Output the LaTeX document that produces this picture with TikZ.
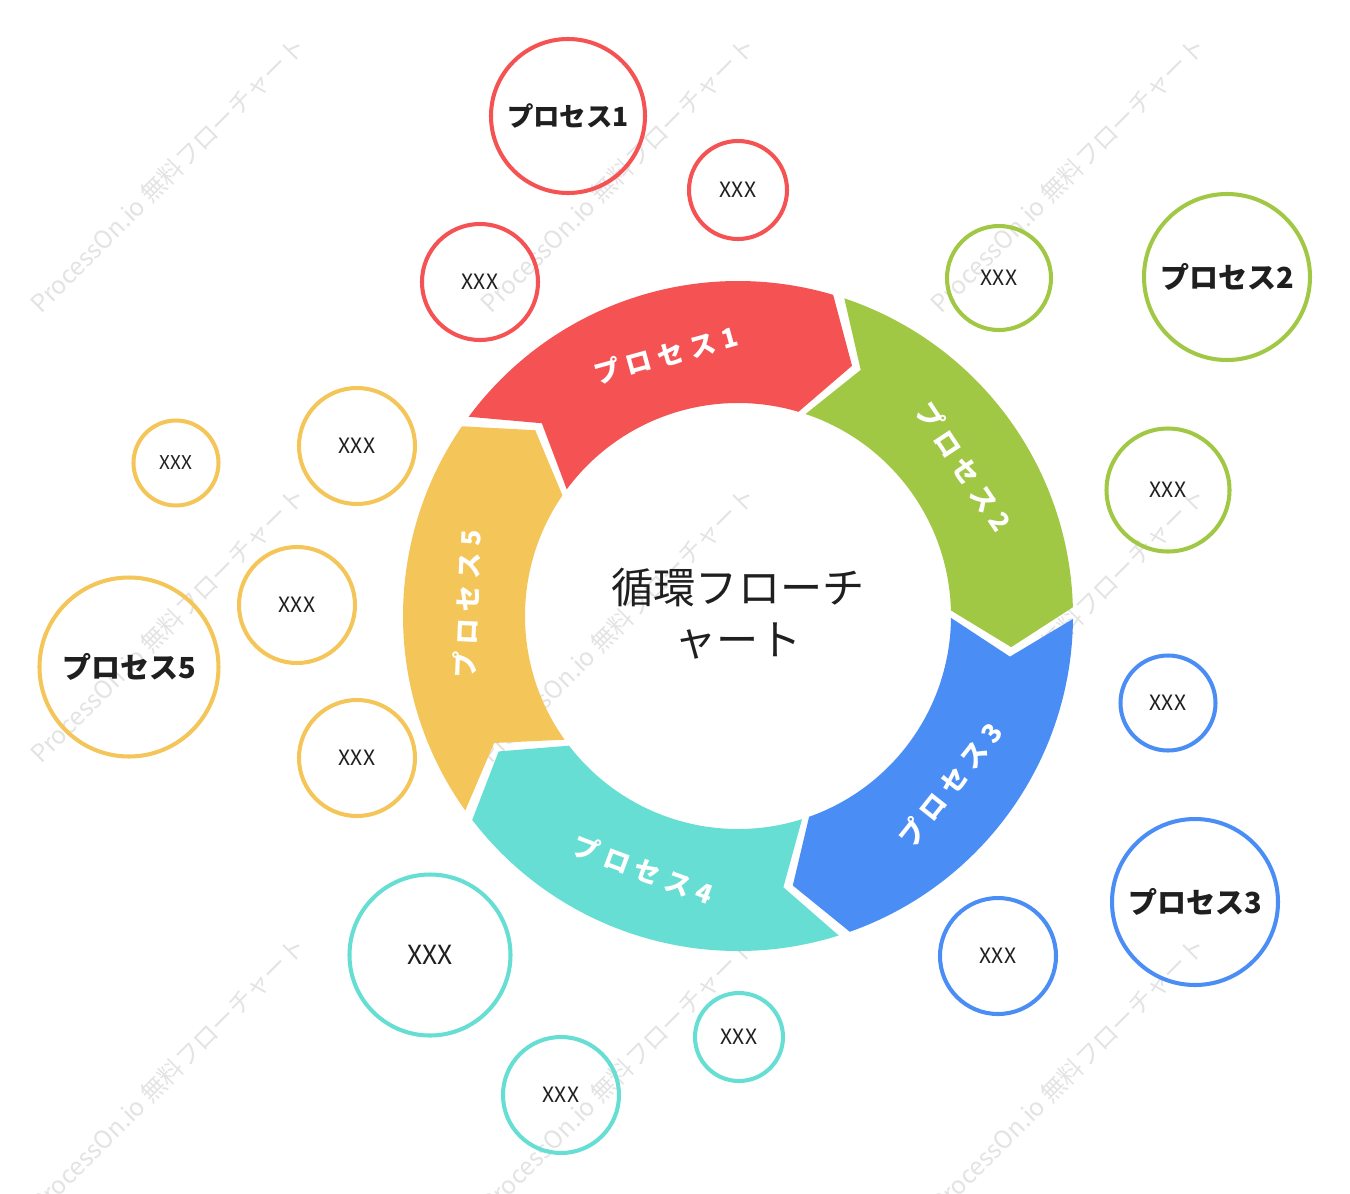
\documentclass[tikz,border=0pt]{standalone}
\usepackage{fontspec}
\setmainfont{Noto Sans CJK JP}
\usepackage{tikz}
\usepackage{xcolor}
\definecolor{pred}{HTML}{F55353}
\definecolor{pgreen}{HTML}{A1C844}
\definecolor{pblue}{HTML}{4A8EF5}
\definecolor{pteal}{HTML}{66DED3}
\definecolor{pyellow}{HTML}{F4C65A}

\begin{document}
\begin{tikzpicture}[
  bub/.style={circle,draw=#1,line width=2.3pt,inner sep=0pt,text=black!88},
  xs/.style={font=\fontsize{12}{14}\selectfont},
  hd/.style={font=\bfseries\fontsize{16.5}{20}\selectfont},
  seglbl/.style={text=white,font=\bfseries\fontsize{15}{18}\selectfont\addfontfeatures{LetterSpace=25}},
  wm/.style={text=black!11,font=\fontsize{14}{16}\selectfont,rotate=45}]
\useasboundingbox (-14.76,-11.54) rectangle (12.24,12.32);
% watermark
\foreach \x [count=\i] in {-11.4,-2.4,6.6}
  \foreach \y [count=\j] in {8.82,-0.18,-9.18}
    \node[wm] (wm\i\j) at (\x,\y) {ProcessOn.io 無料フローチャート};
% ring of arrows
\foreach \c/\a/\r/\t [count=\k] in {pred/143.5/15.5/プロセス1,pgreen/71.5/-56.5/プロセス2,pblue/-0.5/51.5/プロセス3,pteal/-72.5/-20.5/プロセス4,pyellow/-144.5/87.5/プロセス5}{
  \fill[\c] (\a:6.7) arc[start angle=\a,end angle=\a-70,radius=6.7] -- ({\a-78}:5.5) -- ({\a-70}:4.26)
    arc[start angle=\a-70,end angle=\a,radius=4.26] -- ({\a-8}:5.5) -- cycle;
  \node[seglbl,rotate=\r] (seg\k) at ({\a-38}:5.42) {\t};
}
\node[align=center,font=\fontsize{24}{29.6}\selectfont,text=black!88] (title) at (0,0.04) {循環フローチ\\ャート};
% process 1
\node[bub=pred,minimum size=3.08cm,font=\bfseries\fontsize{15}{18}\selectfont] (p1) at (-3.4,10.0) {プロセス1};
\node[bub=pred,minimum size=1.96cm,xs] (p1a) at (0,8.52) {XXX};
\node[bub=pred,minimum size=2.32cm,xs] (p1b) at (-5.16,6.68) {XXX};
% process 2
\node[bub=pgreen,minimum size=2.08cm,xs] (p2a) at (5.22,6.76) {XXX};
\node[bub=pgreen,minimum size=3.32cm,hd] (p2) at (9.78,6.78) {プロセス2};
\node[bub=pgreen,minimum size=2.46cm,xs] (p2b) at (8.6,2.52) {XXX};
% process 3
\node[bub=pblue,minimum size=1.9cm,xs] (p3a) at (8.6,-1.74) {XXX};
\node[bub=pblue,minimum size=3.32cm,hd] (p3) at (9.14,-5.72) {プロセス3};
\node[bub=pblue,minimum size=2.32cm,xs] (p3b) at (5.2,-6.8) {XXX};
% process 4
\node[bub=pteal,minimum size=3.22cm,font=\fontsize{15}{18}\selectfont] (p4a) at (-6.16,-6.78) {XXX};
\node[bub=pteal,minimum size=1.76cm,xs] (p4b) at (0.02,-8.42) {XXX};
\node[bub=pteal,minimum size=2.32cm,xs] (p4c) at (-3.54,-9.58) {XXX};
% process 5
\node[bub=pyellow,minimum size=2.32cm,xs] (p5a) at (-7.62,3.4) {XXX};
\node[bub=pyellow,minimum size=1.7cm,font=\fontsize{10.8}{13}\selectfont] (p5b) at (-11.24,3.06) {XXX};
\node[bub=pyellow,minimum size=2.32cm,xs] (p5c) at (-8.82,0.22) {XXX};
\node[bub=pyellow,minimum size=3.58cm,hd] (p5) at (-12.18,-1.02) {プロセス5};
\node[bub=pyellow,minimum size=2.32cm,xs] (p5d) at (-7.62,-2.84) {XXX};
\end{tikzpicture}
\end{document}
